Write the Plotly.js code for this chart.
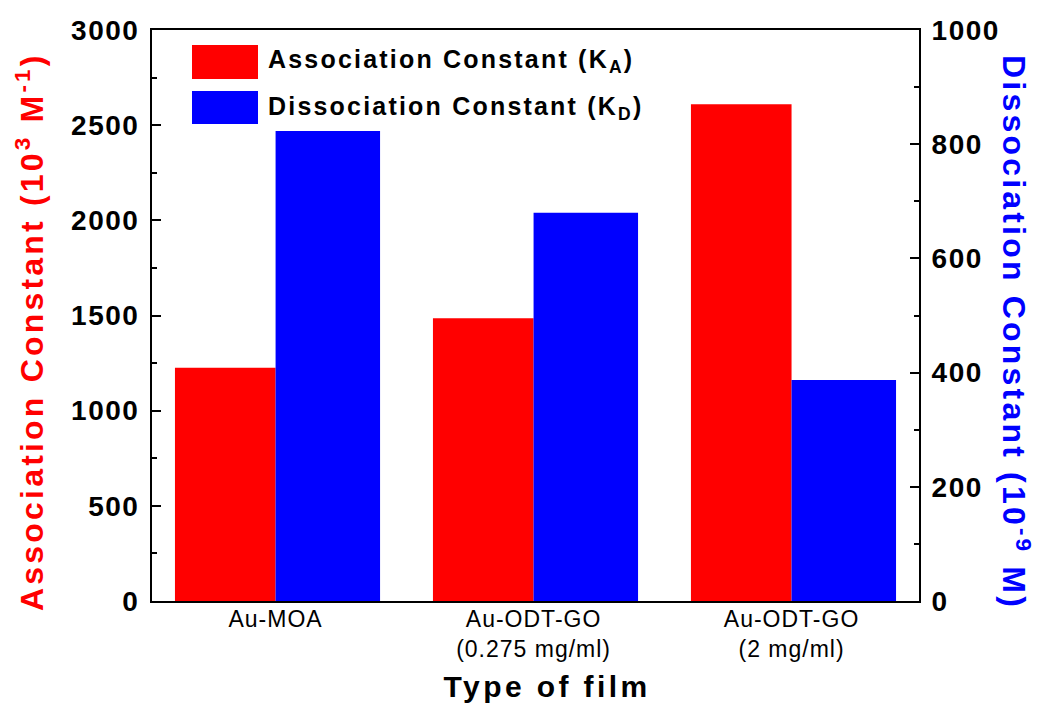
<!DOCTYPE html>
<html>
<head>
<meta charset="utf-8">
<script src="https://cdn.plot.ly/plotly-3.0.1.min.js"></script>
<style>
  html, body { margin: 0; padding: 0; background: #ffffff; }
  #chart { width: 1042px; height: 710px; }
  .ytick text, .y2tick text { letter-spacing: 1.5px; }
  .xtick text { letter-spacing: 1px; }
</style>
</head>
<body>
<div id="chart"></div>
<script>
// Binding constants for each film type
const films = ['Au-MOA', 'Au-ODT-GO', 'Au-ODT-GO'];
const concentrations = ['', '(0.275 mg/ml)', '(2 mg/ml)'];
const associationK = [1225, 1485, 2610];   // 10^3 M^-1
const dissociationK = [823, 680, 387];     // 10^-9 M
const seriesNames = ['Association Constant (K<sub>A</sub>)', 'Dissociation Constant (K<sub>D</sub>)'];
const seriesColors = ['#ff0000', '#0000ff'];

const FONT = 'Liberation Sans, Arial, Helvetica, sans-serif';
const xPos = films.map((_, i) => i);
const xLabels = films.map((f, i) => concentrations[i] ? f + '<br>' + concentrations[i] : f);

// plot area in pixels, used to place the paper-referenced decorations
const L = 152, R = 919, T = 30, B = 601, W = 1042, H = 710;
const px = x => (x - L) / (R - L);
const py = y => (B - y) / (B - T);

const traces = [
  {
    type: 'bar', x: xPos, y: associationK, name: seriesNames[0],
    width: 0.39, offset: -0.39,
    marker: { color: seriesColors[0], line: { width: 0 } },
    yaxis: 'y', hoverinfo: 'y'
  },
  {
    type: 'bar', x: xPos, y: dissociationK, name: seriesNames[1],
    width: 0.405, offset: 0,
    marker: { color: seriesColors[1], line: { width: 0 } },
    yaxis: 'y2', hoverinfo: 'y'
  }
];

// annotations plus the letter spacing each one is rendered with
const annotations = [];
const letterSpacing = [];
function addText(ann, ls) { annotations.push(ann); letterSpacing.push(ls); }

// x axis title
addText({
  xref: 'paper', yref: 'paper', x: px(547), y: py(686), xanchor: 'center', yanchor: 'middle',
  text: 'Type of film', showarrow: false,
  font: { family: FONT, size: 30, color: '#000', weight: 'bold' }
}, 3.4);
// left axis title
addText({
  xref: 'paper', yref: 'paper', x: px(30), y: py(332), xanchor: 'center', yanchor: 'middle',
  textangle: -90, showarrow: false,
  text: 'Association Constant (10<sup>3</sup> M<sup>-1</sup>)',
  font: { family: FONT, size: 32, color: seriesColors[0], weight: 'bold' }
}, 3.2);
// right axis title, reading downwards
addText({
  xref: 'paper', yref: 'paper', x: px(1016), y: py(332), xanchor: 'center', yanchor: 'middle',
  textangle: 90, showarrow: false,
  text: 'Dissociation Constant (10<sup>-9</sup> M)',
  font: { family: FONT, size: 32, color: seriesColors[1], weight: 'bold' }
}, 3.2);
// legend entries
const legendRows = [{ top: 45, bottom: 79, mid: 60.7 }, { top: 91, bottom: 124, mid: 108 }];
const shapes = [];
seriesNames.forEach((name, i) => {
  const r = legendRows[i];
  shapes.push({
    type: 'rect', xref: 'paper', yref: 'paper',
    x0: px(192), x1: px(258), y0: py(r.bottom), y1: py(r.top),
    fillcolor: seriesColors[i], line: { width: 0 }
  });
  addText({
    xref: 'paper', yref: 'paper', x: px(266), y: py(r.mid), xanchor: 'left', yanchor: 'middle',
    text: name, showarrow: false,
    font: { family: FONT, size: 25, color: '#000', weight: 'bold' }
  }, 2.2);
});

const layout = {
  width: W, height: H,
  margin: { l: L, r: W - R, t: T, b: H - B, pad: 0 },
  paper_bgcolor: '#ffffff', plot_bgcolor: '#ffffff',
  showlegend: false,
  barmode: 'overlay',
  font: { family: FONT, color: '#000' },
  xaxis: {
    range: [-0.479, 2.494], showgrid: false, zeroline: false,
    showline: true, linecolor: '#000', linewidth: 2, mirror: true,
    ticks: '', tickvals: xPos, ticktext: xLabels,
    tickfont: { family: FONT, size: 23, color: '#000' },
    ticklabelstandoff: -4,
    fixedrange: true
  },
  yaxis: {
    range: [0, 3000], dtick: 500, tick0: 0, showgrid: false, zeroline: false,
    showline: true, linecolor: '#000', linewidth: 2,
    ticks: 'inside', ticklen: 9, tickwidth: 2, tickcolor: '#000',
    minor: { dtick: 250, ticks: 'inside', ticklen: 5, tickwidth: 2, tickcolor: '#000', showgrid: false },
    tickfont: { family: FONT, size: 28, color: '#000', weight: 'bold' },
    ticklabelstandoff: 5,
    fixedrange: true
  },
  yaxis2: {
    overlaying: 'y', side: 'right',
    range: [0, 1000], dtick: 200, tick0: 0, showgrid: false, zeroline: false,
    showline: true, linecolor: '#000', linewidth: 2,
    ticks: 'inside', ticklen: 9, tickwidth: 2, tickcolor: '#000',
    minor: { dtick: 100, ticks: 'inside', ticklen: 5, tickwidth: 2, tickcolor: '#000', showgrid: false },
    tickfont: { family: FONT, size: 28, color: '#000', weight: 'bold' },
    ticklabelstandoff: 5, fixedrange: true
  },
  shapes: shapes,
  annotations: annotations
};

Plotly.newPlot('chart', traces, layout, { displayModeBar: false, staticPlot: true }).then(gd => {
  // widen the glyph spacing of annotation texts; left-anchored ones keep their left edge
  gd.querySelectorAll('g.annotation').forEach(g => {
    const i = +g.getAttribute('data-index');
    const t = g.querySelector('text.annotation-text');
    const ls = letterSpacing[i];
    if (!t || !ls) return;
    const w0 = t.getBBox().width;
    t.style.letterSpacing = ls + 'px';
    const w1 = t.getBBox().width;
    if (annotations[i].xanchor === 'left') {
      t.setAttribute('x', (+t.getAttribute('x') || 0) + (w1 - w0) / 2);
    }
  });
});
</script>
</body>
</html>
